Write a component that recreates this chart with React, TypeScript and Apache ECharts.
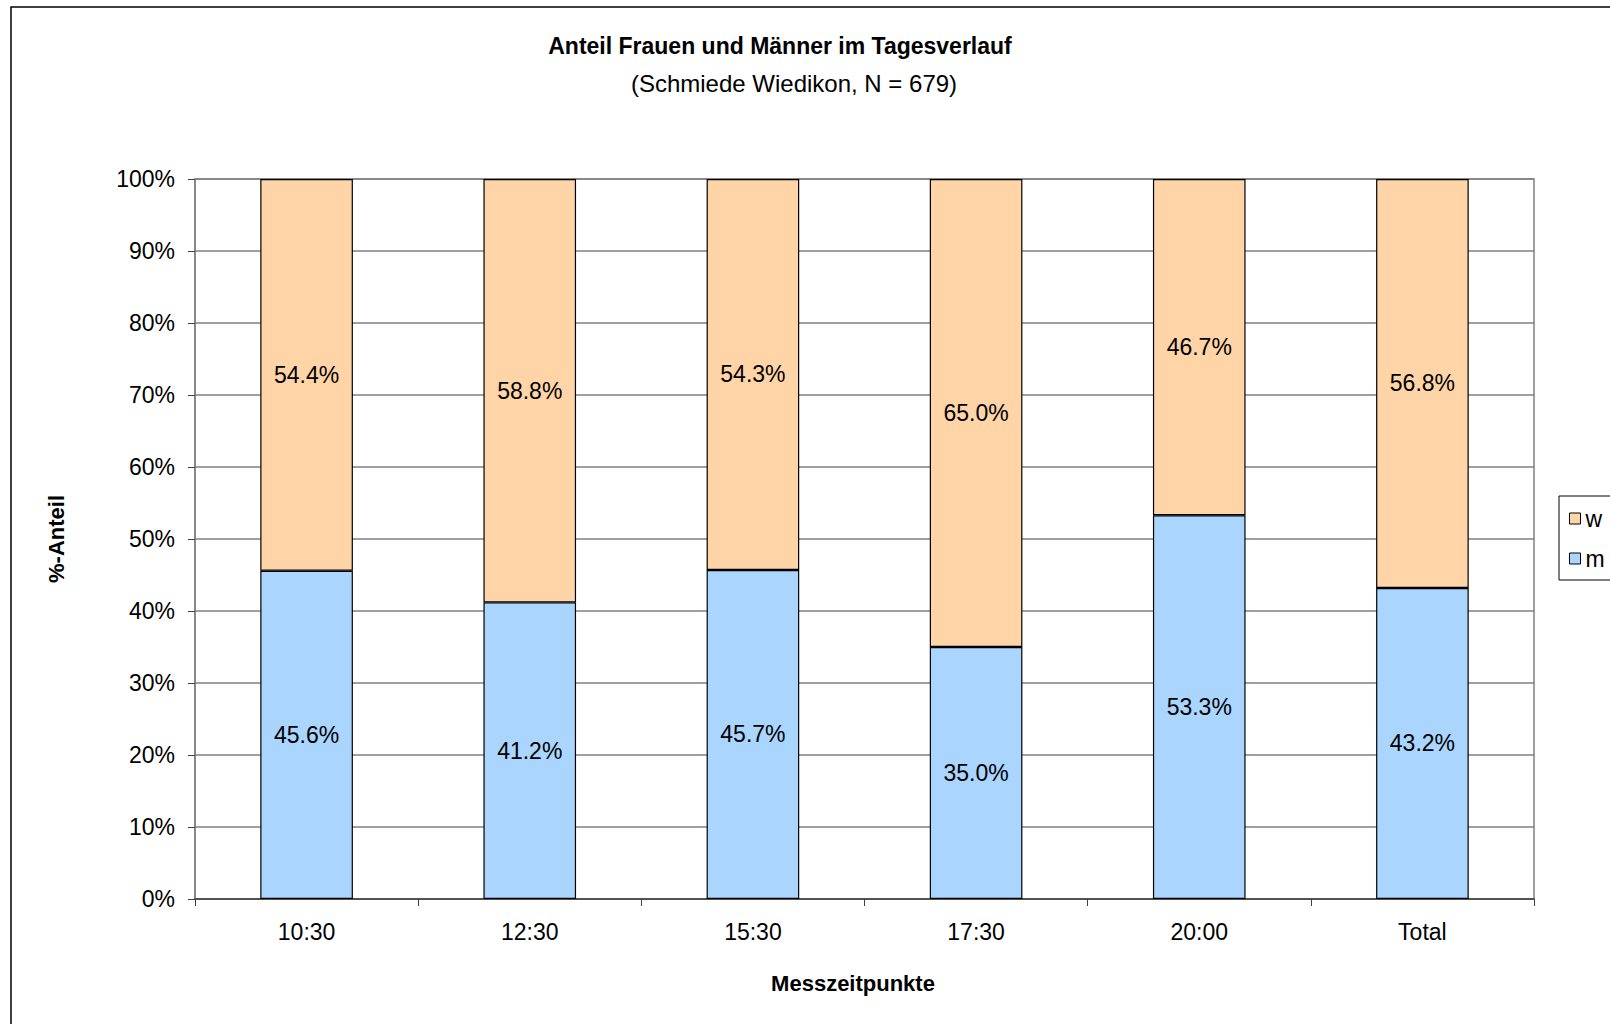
import React, { useEffect, useRef } from "react";
import * as echarts from "echarts";

const categories = ["10:30", "12:30", "15:30", "17:30", "20:00", "Total"];
const mValues = [45.6, 41.2, 45.7, 35.0, 53.3, 43.2];
const wValues = [54.4, 58.8, 54.3, 65.0, 46.7, 56.8];
const yTicks = { min: 0, max: 100, interval: 10 };

const FONT = "'Liberation Sans', Arial, sans-serif";

export default function App() {
  const ref = useRef<HTMLDivElement>(null);
  useEffect(() => {
    if (!ref.current) return;
    const chart = echarts.init(ref.current, null, { renderer: "svg" });
    const labelStyle = {
      show: true,
      position: "inside",
      color: "#000",
      fontSize: 23,
      fontFamily: FONT,
      formatter: (p: any) => Number(p.value).toFixed(1) + "%",
    };
    chart.setOption({
      animation: false,
      backgroundColor: "#fff",
      textStyle: { fontFamily: FONT },
      graphic: [
        {
          type: "rect",
          shape: { x: 11, y: 7, width: 1700, height: 1100 },
          style: { fill: "none", stroke: "#000", lineWidth: 1.5 },
          silent: true,
          z: -10,
        },
        {
          type: "text",
          x: 780,
          y: 46,
          style: {
            text: "Anteil Frauen und Männer im Tagesverlauf",
            font: `bold 23px ${FONT}`,
            fill: "#000",
            textAlign: "center",
            textVerticalAlign: "middle",
          },
        },
        {
          type: "text",
          x: 794,
          y: 83,
          style: {
            text: "(Schmiede Wiedikon, N = 679)",
            font: `24px ${FONT}`,
            fill: "#000",
            textAlign: "center",
            textVerticalAlign: "middle",
          },
        },
        {
          type: "text",
          x: 853,
          y: 983,
          style: {
            text: "Messzeitpunkte",
            font: `bold 22px ${FONT}`,
            fill: "#000",
            textAlign: "center",
            textVerticalAlign: "middle",
          },
        },
      ],
      legend: {
        data: ["w", "m"],
        orient: "vertical",
        left: 1559,
        top: 496,
        padding: [11, 14, 10, 10],
        itemGap: 17,
        itemWidth: 11,
        itemHeight: 11,
        borderColor: "#000",
        borderWidth: 1,
        icon: "rect",
        textStyle: { fontSize: 23, fontFamily: FONT, color: "#000" },
        itemStyle: { borderColor: "#000", borderWidth: 1 },
      },
      grid: {
        left: 195,
        top: 179,
        width: 1339,
        height: 720,
        show: true,
        borderColor: "#808080",
        borderWidth: 1.5,
      },
      xAxis: {
        type: "category",
        data: categories,
        axisLine: { lineStyle: { color: "#404040", width: 1.5 } },
        axisTick: { show: true, length: 7, lineStyle: { color: "#404040" } },
        axisLabel: { fontSize: 23, color: "#000", margin: 21, fontFamily: FONT },
      },
      yAxis: {
        type: "value",
        min: yTicks.min,
        max: yTicks.max,
        interval: yTicks.interval,
        name: "%-Anteil",
        nameLocation: "middle",
        nameGap: 128,
        nameRotate: 90,
        nameTextStyle: { fontSize: 22, fontWeight: "bold", color: "#000", fontFamily: FONT },
        axisLine: { show: true, lineStyle: { color: "#808080", width: 1.5 } },
        axisTick: { show: true, length: 7, lineStyle: { color: "#404040" } },
        axisLabel: { fontSize: 23, color: "#000", margin: 20, formatter: "{value}%", fontFamily: FONT },
        splitLine: { lineStyle: { color: "#808080", width: 1.5 } },
      },
      series: [
        {
          name: "m",
          type: "bar",
          stack: "total",
          data: mValues,
          barWidth: "41.5%",
          itemStyle: { color: "#A9D5FF", borderColor: "#000", borderWidth: 1.2 },
          label: labelStyle,
        },
        {
          name: "w",
          type: "bar",
          stack: "total",
          data: wValues,
          barWidth: "41.5%",
          itemStyle: { color: "#FFD5A8", borderColor: "#000", borderWidth: 1.2 },
          label: labelStyle,
        },
      ],
    });
    return () => chart.dispose();
  }, []);
  return (
    <div
      ref={ref}
      style={{ position: "fixed", left: 0, top: 0, width: 1610, height: 1024 }}
    />
  );
}
